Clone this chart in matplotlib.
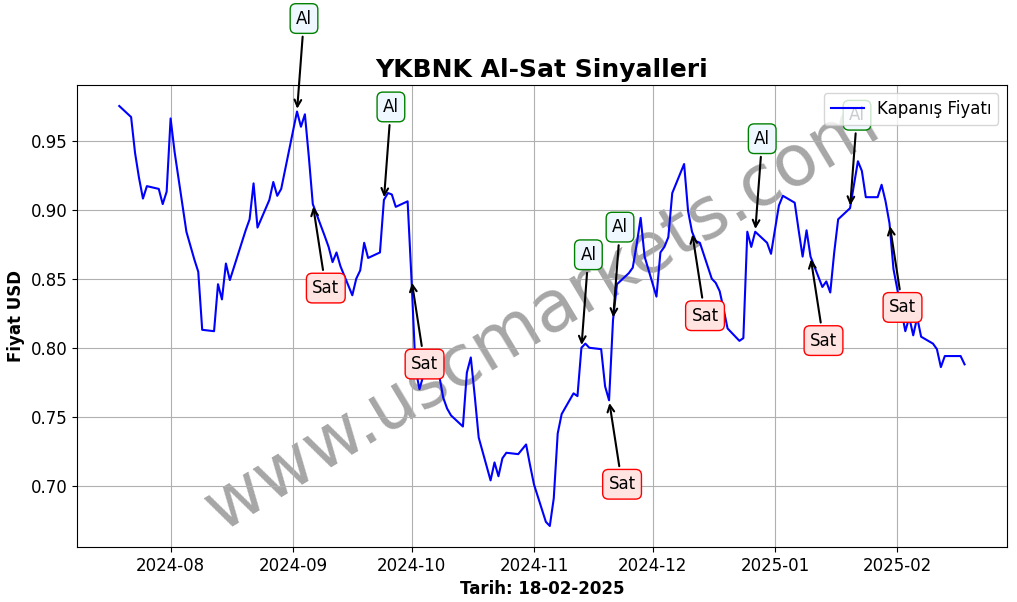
import matplotlib
matplotlib.use("Agg")
import matplotlib.pyplot as plt
import matplotlib.dates as mdates
import pandas as pd

dates = [
    "2024-07-19", "2024-07-22", "2024-07-23", "2024-07-24", "2024-07-25", "2024-07-26",
    "2024-07-29", "2024-07-30", "2024-07-31", "2024-08-01", "2024-08-02",
    "2024-08-05", "2024-08-06", "2024-08-07", "2024-08-08", "2024-08-09",
    "2024-08-12", "2024-08-13", "2024-08-14", "2024-08-15", "2024-08-16",
    "2024-08-19", "2024-08-20", "2024-08-21", "2024-08-22", "2024-08-23",
    "2024-08-26", "2024-08-27", "2024-08-28", "2024-08-29",
    "2024-09-02", "2024-09-03", "2024-09-04", "2024-09-05", "2024-09-06",
    "2024-09-09", "2024-09-10", "2024-09-11", "2024-09-12", "2024-09-13",
    "2024-09-16", "2024-09-17", "2024-09-18", "2024-09-19", "2024-09-20",
    "2024-09-23", "2024-09-24", "2024-09-25", "2024-09-26", "2024-09-27",
    "2024-09-30", "2024-10-01", "2024-10-02", "2024-10-03", "2024-10-04",
    "2024-10-07", "2024-10-08", "2024-10-09", "2024-10-10", "2024-10-11",
    "2024-10-14", "2024-10-15", "2024-10-16", "2024-10-17", "2024-10-18",
    "2024-10-21", "2024-10-22", "2024-10-23", "2024-10-24", "2024-10-25",
    "2024-10-28", "2024-10-30", "2024-10-31", "2024-11-01",
    "2024-11-04", "2024-11-05", "2024-11-06", "2024-11-07", "2024-11-08",
    "2024-11-11", "2024-11-12", "2024-11-13", "2024-11-14", "2024-11-15",
    "2024-11-18", "2024-11-19", "2024-11-20", "2024-11-21", "2024-11-22",
    "2024-11-25", "2024-11-26", "2024-11-27", "2024-11-28", "2024-11-29",
    "2024-12-02", "2024-12-03", "2024-12-04", "2024-12-05", "2024-12-06",
    "2024-12-09", "2024-12-10", "2024-12-11", "2024-12-12", "2024-12-13",
    "2024-12-16", "2024-12-17", "2024-12-18", "2024-12-19", "2024-12-20",
    "2024-12-23", "2024-12-24", "2024-12-25", "2024-12-26", "2024-12-27",
    "2024-12-30", "2024-12-31", "2025-01-02", "2025-01-03",
    "2025-01-06", "2025-01-07", "2025-01-08", "2025-01-09", "2025-01-10",
    "2025-01-13", "2025-01-14", "2025-01-15", "2025-01-16", "2025-01-17",
    "2025-01-20", "2025-01-21", "2025-01-22", "2025-01-23", "2025-01-24",
    "2025-01-27", "2025-01-28", "2025-01-29", "2025-01-30", "2025-01-31",
    "2025-02-03", "2025-02-04", "2025-02-05", "2025-02-06", "2025-02-07",
    "2025-02-10", "2025-02-11", "2025-02-12", "2025-02-13", "2025-02-14",
    "2025-02-17", "2025-02-18",
]

prices = [
    0.975, 0.967, 0.941, 0.923, 0.908, 0.917,
    0.915, 0.904, 0.913, 0.966, 0.942,
    0.884, 0.874, 0.864, 0.855, 0.813,
    0.812, 0.846, 0.835, 0.861, 0.849,
    0.876, 0.885, 0.893, 0.919, 0.887,
    0.907, 0.920, 0.910, 0.915,
    0.971, 0.960, 0.969, 0.938, 0.904,
    0.881, 0.873, 0.862, 0.869, 0.859,
    0.838, 0.850, 0.856, 0.876, 0.865,
    0.869, 0.907, 0.912, 0.911, 0.902,
    0.906, 0.849, 0.785, 0.770, 0.780,
    0.784, 0.780, 0.764, 0.756, 0.751,
    0.743, 0.782, 0.793, 0.765, 0.735,
    0.704, 0.717, 0.707, 0.720, 0.724,
    0.723, 0.730, 0.715, 0.701,
    0.674, 0.671, 0.691, 0.738, 0.752,
    0.767, 0.765, 0.800, 0.803, 0.800,
    0.799, 0.772, 0.762, 0.820, 0.846,
    0.854, 0.858, 0.875, 0.894, 0.866,
    0.837, 0.869, 0.873, 0.880, 0.912,
    0.933, 0.899, 0.884, 0.877, 0.876,
    0.850, 0.847, 0.841, 0.828, 0.814,
    0.805, 0.807, 0.884, 0.873, 0.884,
    0.876, 0.868, 0.903, 0.910,
    0.905, 0.885, 0.866, 0.885, 0.866,
    0.844, 0.848, 0.840, 0.869, 0.893,
    0.901, 0.918, 0.935, 0.928, 0.909,
    0.909, 0.918, 0.906, 0.890, 0.857,
    0.812, 0.822, 0.809, 0.822, 0.808,
    0.803, 0.799, 0.786, 0.794, 0.794,
    0.794, 0.788,
]

buy_dates = ["2024-09-02", "2024-09-24", "2024-11-13", "2024-11-21", "2024-12-27", "2025-01-20"]
sell_dates = ["2024-09-06", "2024-10-01", "2024-11-20", "2024-12-11", "2025-01-10", "2025-01-30"]

title = "YKBNK Al-Sat Sinyalleri"
xlabel = "Tarih: 18-02-2025"
ylabel = "Fiyat USD"
legend_label = "Kapanış Fiyatı"
watermark = "www.uscmarkets.com"

s = pd.Series(prices, index=pd.to_datetime(dates))

fig = plt.figure(figsize=(10.17, 6.02), dpi=100)
ax = fig.add_axes([0.0757, 0.0914, 0.9143, 0.7674])

ax.plot(s.index, s.values, color="blue", lw=1.5, label=legend_label)

for d in buy_dates:
    t = pd.Timestamp(d)
    ax.annotate("Al", xy=(t, s[t]), xytext=(7, 93), textcoords="offset pixels",
                ha="center", va="center", fontsize=12,
                bbox=dict(boxstyle="round,pad=0.35", fc="aliceblue", ec="green", lw=1),
                arrowprops=dict(arrowstyle="->", color="black", lw=1.5))
for d in sell_dates:
    t = pd.Timestamp(d)
    ax.annotate("Sat", xy=(t, s[t]), xytext=(13, -84), textcoords="offset pixels",
                ha="center", va="center", fontsize=12,
                bbox=dict(boxstyle="round,pad=0.35", fc="mistyrose", ec="red", lw=1),
                arrowprops=dict(arrowstyle="->", color="black", lw=1.5))

ax.text(0.5, 0.5, watermark, transform=ax.transAxes, fontsize=51, color="gray",
        alpha=0.7, rotation=31, ha="center", va="center", zorder=0)

ax.set_title(title, fontsize=18, fontweight="bold")
ax.set_xlabel(xlabel, fontsize=12, fontweight="bold")
ax.set_ylabel(ylabel, fontsize=12, fontweight="bold")
ax.xaxis.set_major_locator(mdates.MonthLocator())
ax.xaxis.set_major_formatter(mdates.DateFormatter("%Y-%m"))
ax.tick_params(labelsize=12)
ax.grid(True)
ax.legend(loc="upper right", fontsize=12)

fig.savefig("out.png", dpi=100)
